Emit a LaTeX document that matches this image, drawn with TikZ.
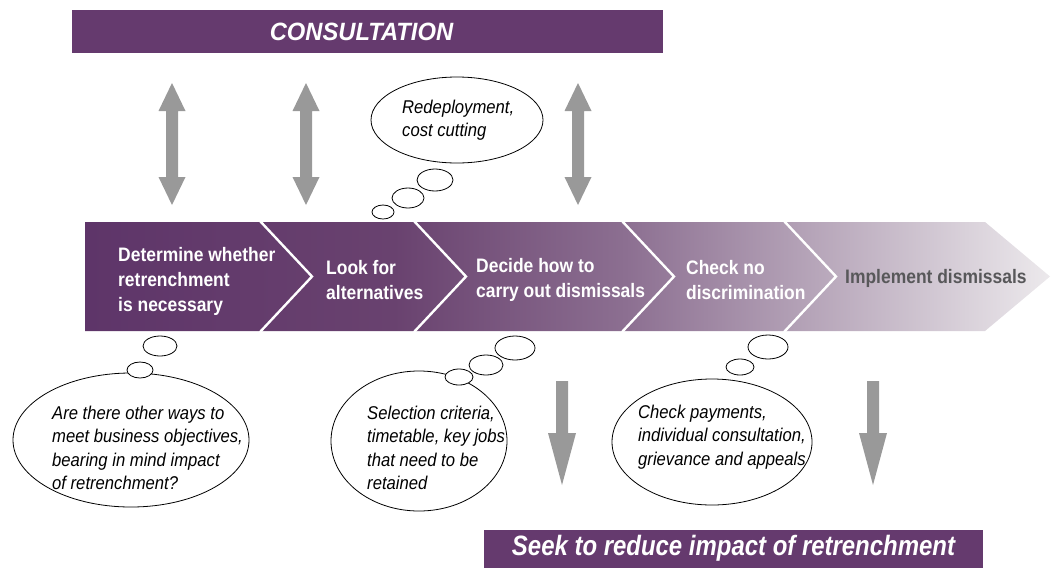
\documentclass[tikz,border=0pt]{standalone}
\usepackage{fontspec}
\setmainfont{Liberation Sans}
\newfontfamily\stepfont{Liberation Sans}[FakeStretch=0.895]
\newfontfamily\bubfont{Liberation Sans}[FakeStretch=0.9]
\newfontfamily\consfont{Liberation Sans}[FakeStretch=0.95]
\newfontfamily\seekfont{Liberation Sans}[FakeStretch=0.855]
\usetikzlibrary{shapes.geometric}
\definecolor{plum}{HTML}{653A6E}
\definecolor{bA}{HTML}{5E3569}
\definecolor{bB}{HTML}{69426F}
\definecolor{bC}{HTML}{8C6F91}
\definecolor{bD}{HTML}{B3A1B6}
\definecolor{bE}{HTML}{ECE9EC}
\definecolor{garrow}{HTML}{999999}
\definecolor{impl}{HTML}{58585A}
\pgfdeclarehorizontalshading{bandshade}{100bp}{color(0bp)=(bA); color(25bp)=(bA); color(41bp)=(bB); color(53bp)=(bC); color(62bp)=(bD); color(75bp)=(bE); color(100bp)=(bE)}
\begin{document}
\begin{tikzpicture}[x=1pt,y=-1pt,
  bannerbox/.style={fill=plum, inner sep=0pt},
  bannertxt/.style={text=white, inner sep=0pt},
  steptxt/.style={anchor=west, align=left, inner sep=0pt, text=white, font=\stepfont\bfseries\fontsize{19.5}{25}\selectfont},
  bubtxt/.style={anchor=west, align=left, inner sep=0pt, font=\bubfont\itshape\fontsize{18.5}{23.5}\selectfont},
  bubble/.style={ellipse, draw=black, line width=0.8pt, fill=white, inner sep=0pt},
  divider/.style={draw=white, line width=2.4pt},
  blockarrow/.style={fill=garrow}
]
\useasboundingbox (0,0) rectangle (1056,568);

% banners
\node[bannerbox, minimum width=591pt, minimum height=43pt] (cons) at (367.5,31.5) {};
\node[bannertxt, font=\consfont\bfseries\itshape\fontsize{25}{30}\selectfont] (constxt) at ([xshift=-6pt]cons.center) {CONSULTATION};
\node[bannerbox, minimum width=499pt, minimum height=38pt] (seek) at (733.5,549) {};
\node[bannertxt, font=\seekfont\bfseries\itshape\fontsize{28}{32}\selectfont] (seektxt) at ([yshift=1pt]seek.center) {Seek to reduce impact of retrenchment};

% band
\coordinate (bandTL) at (85,222);
\coordinate (bandTR) at (985,222);
\coordinate (bandTip) at (1050,276.5);
\coordinate (bandBR) at (985,331);
\coordinate (bandBL) at (85,331);
\shade[shading=bandshade] (bandTL) -- (bandTR) -- (bandTip) -- (bandBR) -- (bandBL) -- cycle;
\foreach \xd in {260,414,622,784}{
  \draw[divider] (\xd,221) -- (\xd+52,276.5) -- (\xd,332);
}

% step texts
\node[steptxt] (s1) at (118,281) {Determine whether\\retrenchment\\is necessary};
\node[steptxt] (s2) at (326,280) {Look for\\alternatives};
\node[steptxt] (s3) at (476,280) {Decide how to\\carry out dismissals};
\node[steptxt] (s4) at (686,280) {Check no\\discrimination};
\node[steptxt, text=impl] (s5) at (845,278) {Implement dismissals};

% double arrows
\foreach \cx in {172,306,578}{
  \fill[blockarrow, shift={(\cx,0)}] (0,83) -- (13.5,111) -- (6,111) -- (6,177) -- (13.5,177) -- (0,205) -- (-13.5,177) -- (-6,177) -- (-6,111) -- (-13.5,111) -- cycle;
}
% down arrows
\foreach \cx in {562,873}{
  \fill[blockarrow, shift={(\cx,0)}] (-6,381) -- (6,381) -- (6,433) -- (14,433) -- (0,485) -- (-14,433) -- (-6,433) -- cycle;
}

% top bubble
\node[bubble, minimum width=172pt, minimum height=86pt] (tb) at (457,120) {};
\node[bubble, minimum width=36pt, minimum height=22pt] (tb1) at (435,180) {};
\node[bubble, minimum width=32pt, minimum height=20pt] (tb2) at (408,198) {};
\node[bubble, minimum width=22pt, minimum height=14pt] (tb3) at (383,212) {};
\node[bubtxt] (tbt) at (402,120) {Redeployment,\\cost cutting};

% bottom-left bubble
\node[bubble, minimum width=236pt, minimum height=134pt] (lb) at (131,440) {};
\node[bubble, minimum width=34pt, minimum height=20pt] (lb1) at (160,346) {};
\node[bubble, minimum width=26pt, minimum height=16pt] (lb2) at (140,370) {};
\node[bubtxt] (lbt) at (52,448) {Are there other ways to\\meet business objectives,\\bearing in mind impact\\of retrenchment?};

% middle bubble
\node[bubble, minimum width=176pt, minimum height=140pt] (mb) at (419,441) {};
\node[bubble, minimum width=40pt, minimum height=24pt] (mb1) at (515,348) {};
\node[bubble, minimum width=34pt, minimum height=20pt] (mb2) at (486,365) {};
\node[bubble, minimum width=28pt, minimum height=16pt] (mb3) at (459,377) {};
\node[bubtxt] (mbt) at (367,448) {Selection criteria,\\timetable, key jobs\\that need to be\\retained};

% right bubble
\node[bubble, minimum width=200pt, minimum height=126pt] (rb) at (712,442) {};
\node[bubble, minimum width=40pt, minimum height=24pt] (rb1) at (768,347) {};
\node[bubble, minimum width=28pt, minimum height=16pt] (rb2) at (740,367) {};
\node[bubtxt] (rbt) at (638,437) {Check payments,\\individual consultation,\\grievance and appeals};
\end{tikzpicture}
\end{document}
